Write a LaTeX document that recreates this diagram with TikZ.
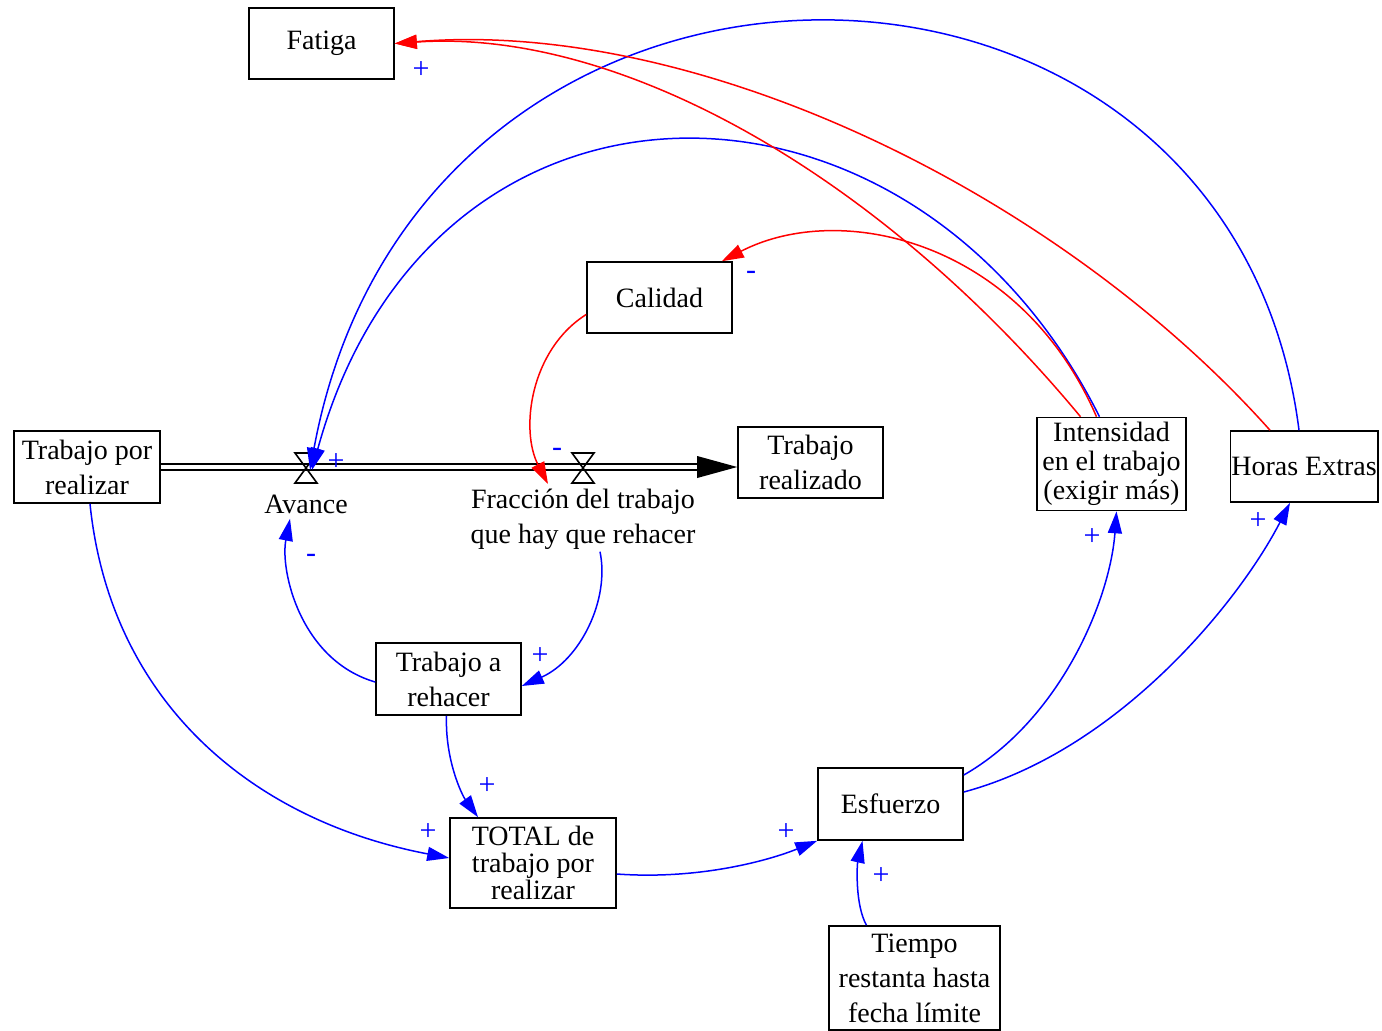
\documentclass[tikz,border=0pt]{standalone}
\usepackage{fontspec}
\setmainfont{Liberation Serif}
\usetikzlibrary{positioning, arrows.meta, calc}

\begin{document}
\begin{tikzpicture}[x=0.5pt, y=-0.5pt,
  var/.style={draw, line width=0.8pt, align=center, inner sep=0.5pt, minimum width=72.5pt, minimum height=35.5pt, font=\fontsize{14}{17.5}\selectfont},
  lbl/.style={align=center, inner sep=0pt, font=\fontsize{14}{17.5}\selectfont},
  sgn/.style={blue, inner sep=0pt, font=\fontsize{15}{17}\selectfont},
  poslink/.style={blue, line width=0.75pt, -{Triangle[length=11pt,width=7pt]}},
  neglink/.style={red, line width=0.75pt, -{Triangle[length=11pt,width=7pt]}},
  pipe/.style={double, line width=1pt, double distance=1.6pt},
  valve/.style={line width=0.8pt}]

\useasboundingbox (0,0) rectangle (1382,1030);

% variables
\node[var] (fatiga) at (321.5,43.5) {Fatiga};
\node[var] (calidad) at (659.5,297.5) {Calidad};
\node[var, minimum width=73pt, minimum height=36pt] (tpr) at (87,467) {Trabajo por\\realizar};
\node[var] (trr) at (810.5,462.5) {Trabajo\\realizado};
\node[var, minimum width=74.5pt, minimum height=46.5pt, font=\fontsize{14}{14.5}\selectfont] (inten) at (1111.5,464) {Intensidad\\en el trabajo\\(exigir más)};
\node[var, minimum width=73pt] (hextra) at (1304,466.5) {Horas Extras};
\node[var, minimum height=36pt] (rehacer) at (448.5,679) {Trabajo a\\rehacer};
\node[var, minimum width=83pt, minimum height=45pt, font=\fontsize{14}{13.5}\selectfont] (total) at (533,863) {TOTAL de\\trabajo por\\realizar};
\node[var, minimum height=36pt] (esf) at (890.5,804) {Esfuerzo};
\node[var, minimum width=85.5pt, minimum height=52pt] (tiempo) at (914.5,978) {Tiempo\\restanta hasta\\fecha límite};

% flujo
\coordinate (vavance) at (306,468);
\coordinate (vfrac) at (583,468);
\coordinate (fracin) at (548,484);
\draw[pipe] (tpr.east) -- ($(tpr.east -| trr.west)+(-40,0)$) coordinate (pend);
\fill ($(pend)+(0,-11)$) -- (tpr.east -| trr.west) -- ($(pend)+(0,11)$) -- cycle;
\foreach \v in {vavance,vfrac}
  \draw[valve] ($(\v)+(-11,-15)$) -- ++(22,0) -- ++(-22,30) -- ++(22,0) -- cycle;
\node[lbl] (avlbl) at (306,504) {Avance};
\node[lbl] (fraclbl) at (583,519) {Fracción del trabajo\\que hay que rehacer};

% lazos
\draw[poslink] ($(hextra.north)+(-5,0)$) .. controls (1230,-115) and (420,-125) .. ($(vavance)+(4,2)$);
\draw[poslink] ($(inten.north)+(-12,0)$) .. controls (910,40) and (430,40) .. ($(vavance)+(6,2)$);
\draw[neglink] ($(inten.north)+(-31,0)$) .. controls (880,175) and (620,28) .. (fatiga.east);
\draw[neglink] ($(hextra.north)+(-34,0)$) .. controls (1060,195) and (700,18) .. (fatiga.east);
\draw[neglink] ($(inten.north)+(-15,0)$) .. controls (1020,240) and (840,200) .. ($(calidad.north east)+(-11,0)$);
\draw[neglink] ($(calidad.west)+(0,17)$) .. controls (530,350) and (520,430) .. (fracin);
\draw[poslink] ($(fraclbl.south)+(17,2)$) .. controls (610,600) and (580,660) .. ($(rehacer.east)+(0,7)$);
\draw[poslink] ($(rehacer.west)+(0,3)$) .. controls (300,660) and (280,570) .. ($(avlbl.south)+(-16,5)$);
\draw[poslink] ($(rehacer.south)+(-2,0)$) .. controls (445,760) and (462,795) .. ($(total.north)+(-55,0)$);
\draw[poslink] ($(tpr.south)+(3,0)$) .. controls (110,700) and (250,820) .. ($(total.west)+(0,-5)$);
\draw[poslink] ($(total.east)+(0,11)$) .. controls (700,880) and (770,860) .. (esf.south west);
\draw[poslink] ($(tiempo.north)+(-48,0)$) .. controls (855,905) and (857,865) .. ($(esf.south)+(-28,0)$);
\draw[poslink] ($(esf.east)+(0,-29)$) .. controls (1060,720) and (1110,600) .. ($(inten.south)+(5,0)$);
\draw[poslink] ($(esf.east)+(0,-12)$) .. controls (1120,750) and (1240,600) .. ($(hextra.south)+(-14,0)$);

% signos
\node[sgn] (sfat) at (421,70) {+};
\node[sgn] (sav) at (336,462) {+};
\node[sgn] (scal) at (751,275) {-};
\node[sgn] (sfr) at (557,452) {-};
\node[sgn] (sav2) at (311,558) {-};
\node[sgn] (sreh) at (540,656) {+};
\node[sgn] (stot1) at (487,786) {+};
\node[sgn] (stot2) at (428,832) {+};
\node[sgn] (sesf1) at (786,832) {+};
\node[sgn] (sesf2) at (881,876) {+};
\node[sgn] (sint) at (1092,537) {+};
\node[sgn] (shex) at (1258,521) {+};
\end{tikzpicture}
\end{document}
